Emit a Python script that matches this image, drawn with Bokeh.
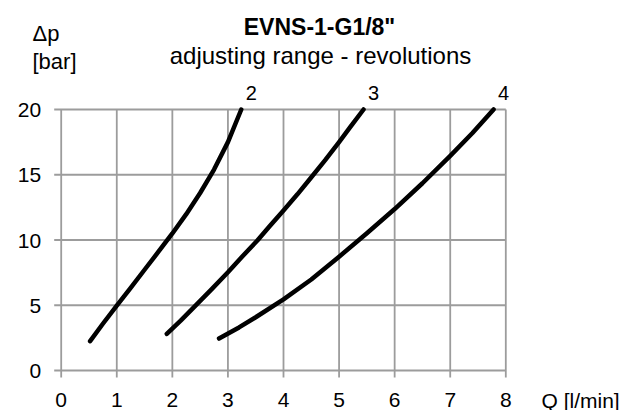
from bokeh.plotting import figure
from bokeh.models import Range1d
from bokeh.core.properties import value
from bokeh.embed import file_html
from bokeh.resources import INLINE

# ---- data ----
x_ticks = [0, 1, 2, 3, 4, 5, 6, 7, 8]
x_tick_labels = ["0", "1", "2", "3", "4", "5", "6", "7", "8"]
y_ticks = [0, 5, 10, 15, 20]
y_tick_labels = ["0", "5", "10", "15", "20"]

curve_names = ["2", "3", "4"]
q2 = [0.52, 0.75, 1.0, 1.25, 1.5, 1.75, 2.0, 2.25, 2.5, 2.75, 3.0, 3.24]
p2 = [2.25, 3.58, 4.97, 6.33, 7.72, 9.1, 10.5, 11.98, 13.6, 15.4, 17.5, 20.0]
q3 = [1.9, 2.15, 2.39, 2.7, 3.0, 3.25, 3.53, 3.75, 4.0, 4.25, 4.49, 4.75, 5.0, 5.2, 5.44]
p3 = [2.81, 3.82, 4.85, 6.2, 7.53, 8.7, 9.96, 11.05, 12.26, 13.5, 14.75, 16.12, 17.5, 18.65, 20.0]
q4 = [2.84, 3.2, 3.5, 4.0, 4.5, 5.0, 5.5, 6.0, 6.5, 7.0, 7.4, 7.78]
p4 = [2.45, 3.3, 4.08, 5.45, 6.97, 8.72, 10.52, 12.37, 14.35, 16.45, 18.2, 20.0]

title_text = 'EVNS-1-G1/8"'
subtitle_text = "adjusting range - revolutions"
y_label_1 = "\u0394p"
y_label_2 = "[bar]"
x_label = "Q [l/min]"

# ---- layout (canvas pixels) ----
W, H = 631, 410
LEFT, RIGHT, TOP, BOTTOM = 60.7, 505.3, 109.0, 370.0   # plot area edges in pixels
XMIN, XMAX, YMIN, YMAX = 0, 8, 0, 20
SX = (RIGHT - LEFT) / (XMAX - XMIN)
SY = (BOTTOM - TOP) / (YMAX - YMIN)
TXT = 7.0   # correction: rendered text baseline sits lower than requested


def X(px):
    return XMIN + (px - LEFT) / SX


def Y(py):
    return YMIN + (BOTTOM - py) / SY


def YT(py):
    return Y(py - TXT)


FONT = value("Liberation Sans")
GRID = "#9c9c9c"
TICK = 7

p = figure(width=W, height=H, output_backend="svg", toolbar_location=None,
           x_range=Range1d(X(0), X(W)), y_range=Range1d(Y(H), Y(0)),
           x_axis_location=None, y_axis_location=None, min_border=0)
p.outline_line_color = None
p.grid.visible = False
p.background_fill_color = "white"
p.border_fill_color = "white"

# grid lines + outward tick marks
p.segment(x0=x_ticks, y0=[YMIN - TICK / SY] * len(x_ticks),
          x1=x_ticks, y1=[YMAX] * len(x_ticks),
          line_color=GRID, line_width=1.8)
p.segment(x0=[XMIN - TICK / SX] * len(y_ticks), y0=y_ticks,
          x1=[XMAX] * len(y_ticks), y1=y_ticks,
          line_color=GRID, line_width=1.8)

# tick labels
p.text(x=x_ticks, y=[YT(BOTTOM + 36.5)] * len(x_ticks), text=x_tick_labels,
       text_align="center", text_baseline="alphabetic",
       text_font=FONT, text_font_size="21px", text_color="black")
p.text(x=[X(LEFT - 20)] * len(y_ticks), y=[t - (7.5 - TXT) / SY for t in y_ticks],
       text=y_tick_labels, text_align="right", text_baseline="alphabetic",
       text_font=FONT, text_font_size="21px", text_color="black")

# curves
for q, pv in ((q2, p2), (q3, p3), (q4, p4)):
    p.line(q, pv, line_color="black", line_width=4.5, line_cap="round", line_join="round")

# curve labels
p.text(x=[q[-1] + 10 / SX for q in (q2, q3, q4)],
       y=[pv[-1] + (9.7 + TXT) / SY for pv in (p2, p3, p4)],
       text=curve_names, text_align="center", text_baseline="alphabetic",
       text_font=FONT, text_font_size="20px", text_color="black")

# axis titles
p.text(x=[X(541)], y=[YT(406.5)], text=[x_label], text_align="left",
       text_baseline="alphabetic", text_font=FONT, text_font_size="21px", text_color="black")
p.text(x=[X(32)], y=[YT(40)], text=[y_label_1], text_align="left",
       text_baseline="alphabetic", text_font=FONT, text_font_size="22px", text_color="black")
p.text(x=[X(32)], y=[YT(68)], text=[y_label_2], text_align="left",
       text_baseline="alphabetic", text_font=FONT, text_font_size="22px", text_color="black")

# chart titles
p.text(x=[X(319)], y=[YT(33.3)], text=[title_text], text_align="center",
       text_baseline="alphabetic", text_font=FONT, text_font_size="23px",
       text_font_style="bold", text_color="black")
p.text(x=[X(320)], y=[YT(61.7)], text=[subtitle_text], text_align="center",
       text_baseline="alphabetic", text_font=FONT, text_font_size="24px", text_color="black")

open("out.html", "w").write(file_html(p, INLINE))
